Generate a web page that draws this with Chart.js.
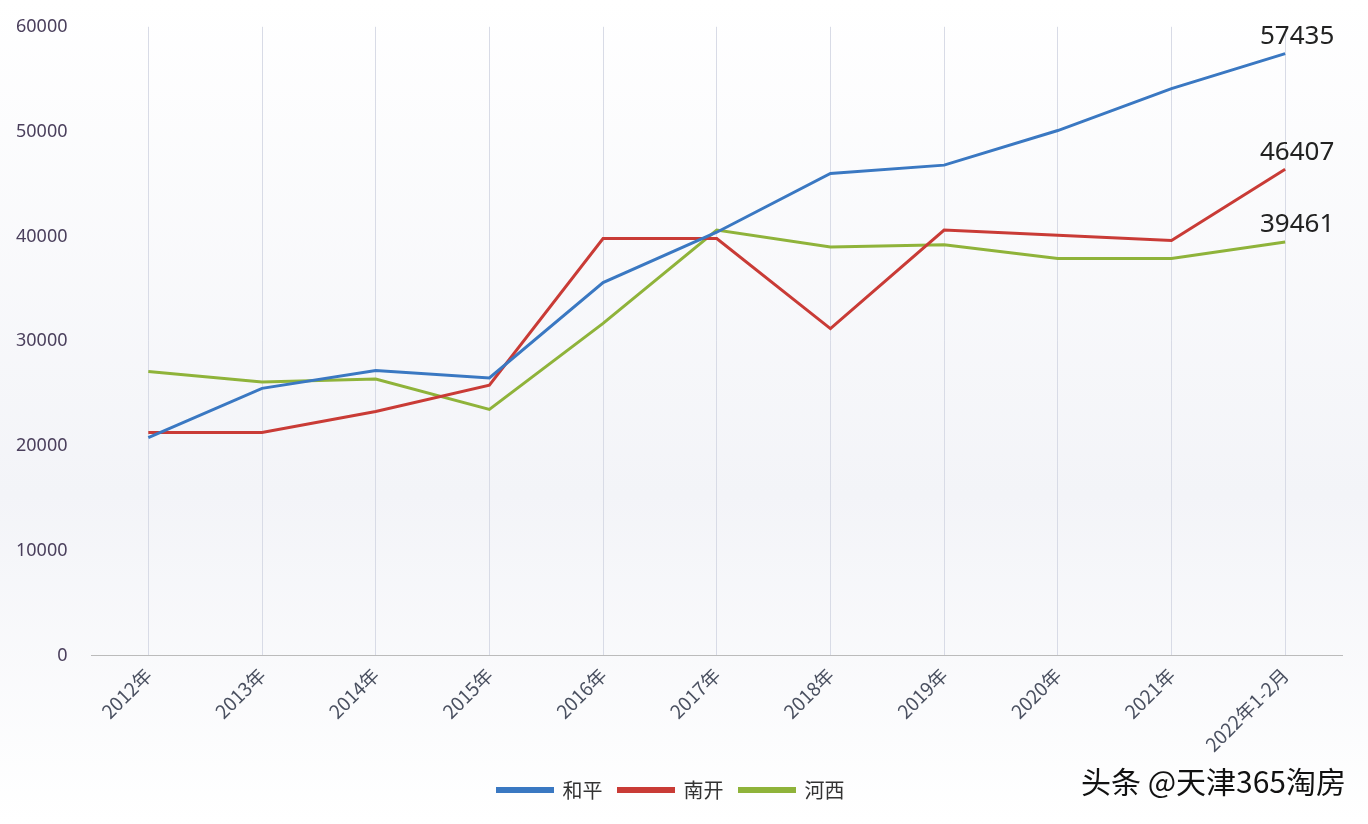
<!DOCTYPE html>
<html><head><meta charset="utf-8">
<script src="https://cdn.jsdelivr.net/npm/chart.js@4"></script>
<style>html,body{margin:0;background:#fff;}#w{position:relative;width:1368px;height:824px;background:linear-gradient(#fff,#f3f4f8 60%,#fff);}
#wm{position:absolute;right:22px;bottom:22px;font:30px "Noto Sans CJK SC";color:#111;}</style>
</head><body><div id="w"><canvas id="c" width="1368" height="824"></canvas><div id="wm">头条 @天津365淘房</div></div>
<script>
const categories=["2012年","2013年","2014年","2015年","2016年","2017年","2018年","2019年","2020年","2021年","2022年1-2月"];
const heping=[20800,25500,27200,26500,35600,40400,46000,46800,50100,54100,57435];
const nankai=[21300,21300,23300,25800,39800,39800,31200,40600,40100,39600,46407];
const hexi=[27100,26100,26400,23500,31700,40600,39000,39200,37900,37900,39461];
const yTicks=[0,10000,20000,30000,40000,50000,60000];
const endLabels={id:'endLabels',afterDatasetsDraw(ch){const ctx=ch.ctx;ctx.save();ctx.font='26px "Noto Sans","DejaVu Sans"';ctx.fillStyle='#222';ctx.textAlign='center';ctx.textBaseline='bottom';
ch.data.datasets.forEach((d,i)=>{const m=ch.getDatasetMeta(i);const p=m.data[m.data.length-1];ctx.fillText(String(d.data[d.data.length-1]),p.x+12,p.y-4);});ctx.restore();}};
new Chart(document.getElementById('c'),{type:'line',data:{labels:categories,datasets:[
{label:'和平',data:heping,borderColor:'#3a78c2',borderWidth:3,pointRadius:0,tension:0},
{label:'南开',data:nankai,borderColor:'#c93b36',borderWidth:3,pointRadius:0,tension:0},
{label:'河西',data:hexi,borderColor:'#8fb33a',borderWidth:3,pointRadius:0,tension:0}]},
options:{responsive:false,animation:false,layout:{padding:{top:20,right:26,left:0,bottom:14}},
plugins:{legend:{position:'bottom',labels:{boxWidth:55,boxHeight:3,font:{size:20,family:'"Noto Sans CJK SC"'},color:'#333',padding:16}},tooltip:{enabled:false}},
scales:{x:{offset:true,grid:{display:true,offset:false,color:'#d8dbe6',drawTicks:false},border:{color:'#bbb'},ticks:{maxRotation:45,minRotation:45,font:{size:19,family:'"Noto Sans CJK SC"'},color:'#4a5060',padding:8}},
y:{min:0,max:60000,afterBuildTicks(a){a.ticks=yTicks.map(v=>({value:v}));},grid:{display:false},border:{display:false},ticks:{callback:v=>String(v),font:{size:18,family:'"Noto Sans"'},color:'#4a3f5c',padding:16}}}},
plugins:[endLabels]});
</script></body></html>
